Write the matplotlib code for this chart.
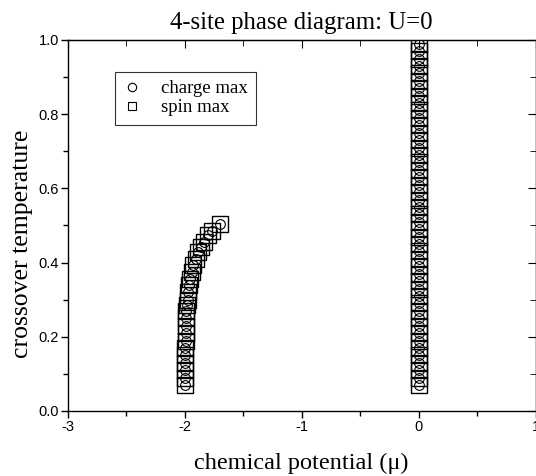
import matplotlib
matplotlib.use("Agg")
import matplotlib.pyplot as plt
from matplotlib.ticker import MultipleLocator

# branch near mu = 0 (vertical column)
temp_zero = [0.07 + 0.02 * i for i in range(47)]
mu_zero = [0.0] * len(temp_zero)

# branch near mu = -2 (bends to the right at the top)
temp_two = [0.07, 0.09, 0.11, 0.13, 0.15, 0.17, 0.19, 0.21, 0.23, 0.25, 0.27,
            0.285, 0.30, 0.32, 0.34, 0.357, 0.375, 0.394, 0.41, 0.429, 0.443,
            0.456, 0.474, 0.486, 0.504]
mu_two = [-1.995, -1.995, -1.995, -1.995, -1.995, -1.995, -1.994, -1.993, -1.992,
          -1.99, -1.987, -1.983, -1.977, -1.97, -1.962, -1.955, -1.943, -1.93,
          -1.906, -1.885, -1.86, -1.835, -1.80, -1.77, -1.70]

plt.rcParams['font.family'] = ['Liberation Sans', 'DejaVu Sans']
serif = ['Liberation Serif', 'DejaVu Serif']

fig = plt.figure(figsize=(5.36, 4.76), dpi=100)
ax = fig.add_axes([68 / 536, 1 - 411 / 476, (535.5 - 68) / 536, (411 - 40) / 476])

for mu, t in [(mu_two, temp_two), (mu_zero, temp_zero)]:
    ax.plot(mu, t, ls='none', marker='s', ms=11, mfc='none', mec='black', mew=1.0)
    ax.plot(mu, t, ls='none', marker='o', ms=7.0, mfc='none', mec='black', mew=0.8)

# legend handles
h1, = ax.plot([], [], ls='none', marker='o', ms=6, mfc='none', mec='black', mew=0.8,
              label='charge max')
h2, = ax.plot([], [], ls='none', marker='s', ms=6, mfc='none', mec='black', mew=0.8,
              label='spin max')
leg = ax.legend(handles=[h1, h2], loc='upper left', bbox_to_anchor=(0.1, 0.914),
                prop={'family': serif, 'size': 13.5}, frameon=True, fancybox=False,
                edgecolor='black', handletextpad=1.1, borderpad=0.45,
                labelspacing=0.08, handlelength=0.9, borderaxespad=0)
leg.get_frame().set_linewidth(0.8)

ax.set_xlim(-3, 1)
ax.set_ylim(0, 1.0)
ax.xaxis.set_major_locator(MultipleLocator(1))
ax.xaxis.set_minor_locator(MultipleLocator(0.5))
ax.yaxis.set_major_locator(MultipleLocator(0.2))
ax.yaxis.set_minor_locator(MultipleLocator(0.1))
ax.set_xticks([-3, -2, -1, 0, 1], ['-3', '-2', '-1', '0', '1'])
ax.tick_params(which='both', direction='out', labelsize=10.5, width=1.0)
ax.tick_params(which='major', length=5, pad=1.5)
ax.tick_params(which='minor', length=3.5, labelbottom=False)
for s in ax.spines.values():
    s.set_linewidth(1.0)

# mirrored inward ticks on top and right
ax_top = ax.secondary_xaxis('top')
ax_top.xaxis.set_major_locator(MultipleLocator(1))
ax_top.xaxis.set_minor_locator(MultipleLocator(0.5))
ax_top.tick_params(which='both', direction='in', labeltop=False)
ax_top.tick_params(which='major', length=6)
ax_top.tick_params(which='minor', length=4)
ax_right = ax.secondary_yaxis('right')
ax_right.yaxis.set_major_locator(MultipleLocator(0.2))
ax_right.yaxis.set_minor_locator(MultipleLocator(0.1))
ax_right.tick_params(which='both', direction='in', labelright=False)
ax_right.tick_params(which='major', length=6)
ax_right.tick_params(which='minor', length=4)

ax.set_title('4-site phase diagram: U=0', family=serif, fontsize=17.8, pad=8)
ax.set_xlabel('chemical potential (\u03bc)', family=serif, fontsize=17.5, labelpad=13.5)
ax.set_ylabel('crossover temperature', family=serif, fontsize=18.5, va='center')
ax.yaxis.set_label_coords(-0.098, 0.45)

fig.savefig('out.png', dpi=100)
